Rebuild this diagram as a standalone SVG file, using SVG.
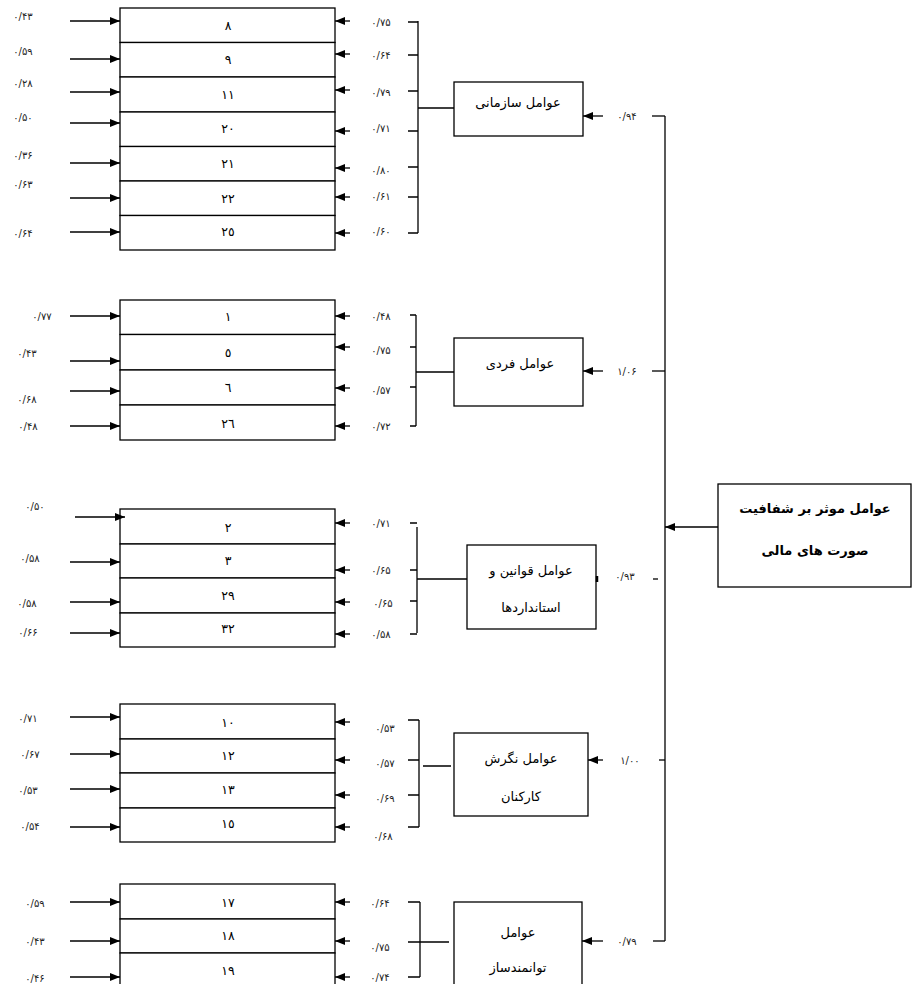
<svg xmlns="http://www.w3.org/2000/svg" width="914" height="984" viewBox="0 0 914 984">
<defs>
<marker id="ah" markerUnits="userSpaceOnUse" markerWidth="10" markerHeight="8" refX="10" refY="4" orient="auto">
<path d="M0,0 L10,4 L0,8 z" fill="#000"/>
</marker>
<style>
rect{fill:#fff;stroke:#000;stroke-width:1.3}
line,path.c{stroke:#000;stroke-width:1.3;fill:none}
line.a{marker-end:url(#ah)}
text{font-family:"DejaVu Sans","Noto Sans",sans-serif;fill:#000;text-anchor:middle;dominant-baseline:central}
text.v{font-size:10px;fill:#222}
text.n{font-size:12.5px}
text.f{font-size:13px}
text.m{font-size:13px;font-weight:bold}
</style>
</defs>
<rect x="0" y="0" width="914" height="984" style="fill:#fff;stroke:none"/>

<!-- Group 1 -->
<g id="items1">
<rect x="120" y="8" width="215" height="34.5"/><text class="n" x="228" y="25">٨</text>
<rect x="120" y="42.5" width="215" height="34.5"/><text class="n" x="228" y="59">٩</text>
<rect x="120" y="77" width="215" height="35"/><text class="n" x="228" y="94">١١</text>
<rect x="120" y="112" width="215" height="34.5"/><text class="n" x="228" y="128">٢٠</text>
<rect x="120" y="146.5" width="215" height="34.5"/><text class="n" x="228" y="163">٢١</text>
<rect x="120" y="181" width="215" height="34.5"/><text class="n" x="228" y="198">٢٢</text>
<rect x="120" y="215.5" width="215" height="34.5"/><text class="n" x="228" y="231">٢٥</text>
</g>
<g id="factor1"><rect x="454" y="82" width="129" height="54"/><text class="f" x="518" y="102">عوامل سازمانی</text></g>

<!-- Group 2 -->
<g id="items2">
<rect x="120" y="300" width="215" height="34.5"/><text class="n" x="228" y="316">١</text>
<rect x="120" y="334.5" width="215" height="35.5"/><text class="n" x="228" y="352">٥</text>
<rect x="120" y="370" width="215" height="35"/><text class="n" x="228" y="387">٦</text>
<rect x="120" y="405" width="215" height="35"/><text class="n" x="228" y="423">٢٦</text>
</g>
<g id="factor2"><rect x="454" y="338" width="129" height="68"/><text class="f" x="520" y="363">عوامل فردی</text></g>

<!-- Group 3 -->
<g id="items3">
<rect x="120" y="509" width="215" height="35"/><text class="n" x="228" y="527">٢</text>
<rect x="120" y="544" width="215" height="34"/><text class="n" x="228" y="560">٣</text>
<rect x="120" y="578" width="215" height="35"/><text class="n" x="228" y="595">٢٩</text>
<rect x="120" y="613" width="215" height="34"/><text class="n" x="228" y="628">٣٢</text>
</g>
<g id="factor3"><rect x="467" y="545" width="129" height="84"/><text class="f" x="531" y="570">عوامل قوانین و</text><text class="f" x="531" y="607">استانداردها</text></g>

<!-- Group 4 -->
<g id="items4">
<rect x="120" y="704" width="215" height="35"/><text class="n" x="228" y="722">١٠</text>
<rect x="120" y="739" width="215" height="34"/><text class="n" x="228" y="755">١٢</text>
<rect x="120" y="773" width="215" height="35"/><text class="n" x="228" y="789">١٣</text>
<rect x="120" y="808" width="215" height="34"/><text class="n" x="228" y="823">١٥</text>
</g>
<g id="factor4"><rect x="454" y="733" width="134" height="83"/><text class="f" x="521" y="758">عوامل نگرش</text><text class="f" x="521" y="796">کارکنان</text></g>

<!-- Group 5 -->
<g id="items5">
<rect x="120" y="884" width="215" height="35"/><text class="n" x="228" y="902">١٧</text>
<rect x="120" y="919" width="215" height="34"/><text class="n" x="228" y="935">١٨</text>
<rect x="120" y="953" width="215" height="40"/><text class="n" x="228" y="970">١٩</text>
</g>
<g id="factor5"><rect x="454" y="902" width="128" height="90"/><text class="f" x="518" y="932">عوامل</text><text class="f" x="518" y="967">توانمندساز</text></g>

<!-- Main -->
<g id="main"><rect x="718" y="484" width="193" height="103"/><text class="m" x="815" y="508">عوامل موثر بر شفافیت</text><text class="m" x="815" y="550">صورت های مالی</text></g>

<g id="connectors">
<line class="a" x1="70" y1="21" x2="120" y2="21"/>
<line class="a" x1="70" y1="59" x2="120" y2="59"/>
<line class="a" x1="70" y1="92" x2="120" y2="92"/>
<line class="a" x1="70" y1="123" x2="120" y2="123"/>
<line class="a" x1="70" y1="163" x2="120" y2="163"/>
<line class="a" x1="70" y1="198" x2="120" y2="198"/>
<line class="a" x1="70" y1="232" x2="120" y2="232"/>
<line class="a" x1="350" y1="21" x2="335" y2="21"/>
<line class="a" x1="350" y1="54" x2="335" y2="54"/>
<line class="a" x1="350" y1="90" x2="335" y2="90"/>
<line class="a" x1="350" y1="131" x2="335" y2="131"/>
<line class="a" x1="350" y1="168" x2="335" y2="168"/>
<line class="a" x1="350" y1="197" x2="335" y2="197"/>
<line class="a" x1="350" y1="233" x2="335" y2="233"/>
<path class="c" d="M408,22H418M408,55H418M408,91H418M408,131H418M408,167H418M408,197H418M408,233H418M418,21V233M418,108H454"/>
<line class="a" x1="603" y1="116" x2="583" y2="116"/>
<path class="c" d="M652,116H665"/>

<line class="a" x1="70" y1="316" x2="120" y2="316"/>
<line class="a" x1="70" y1="361" x2="120" y2="361"/>
<line class="a" x1="70" y1="391" x2="120" y2="391"/>
<line class="a" x1="70" y1="426" x2="120" y2="426"/>
<line class="a" x1="350" y1="316" x2="335" y2="316"/>
<line class="a" x1="350" y1="347" x2="335" y2="347"/>
<line class="a" x1="350" y1="388" x2="335" y2="388"/>
<line class="a" x1="350" y1="426" x2="335" y2="426"/>
<path class="c" d="M410,315H416M410,347H416M410,387H416M410,426H416M416,315V426M416,372H454"/>
<line class="a" x1="603" y1="371" x2="583" y2="371"/>
<path class="c" d="M652,371H665"/>

<line class="a" x1="75" y1="517" x2="125" y2="517"/>
<line class="a" x1="70" y1="562" x2="120" y2="562"/>
<line class="a" x1="70" y1="602" x2="120" y2="602"/>
<line class="a" x1="70" y1="633" x2="120" y2="633"/>
<line class="a" x1="350" y1="523" x2="335" y2="523"/>
<line class="a" x1="350" y1="570" x2="335" y2="570"/>
<line class="a" x1="350" y1="602" x2="335" y2="602"/>
<line class="a" x1="350" y1="634" x2="335" y2="634"/>
<path class="c" d="M410,523H417M410,570H417M410,601H417M410,634H417M417,527V633M417,579H467"/>
<path class="c" d="M597,576V582" style="stroke-width:2.5"/>
<path class="c" d="M653,579H658"/>

<line class="a" x1="70" y1="717" x2="120" y2="717"/>
<line class="a" x1="70" y1="754" x2="120" y2="754"/>
<line class="a" x1="70" y1="789" x2="120" y2="789"/>
<line class="a" x1="70" y1="827" x2="120" y2="827"/>
<line class="a" x1="350" y1="722" x2="335" y2="722"/>
<line class="a" x1="350" y1="760" x2="335" y2="760"/>
<line class="a" x1="350" y1="795" x2="335" y2="795"/>
<line class="a" x1="350" y1="827" x2="335" y2="827"/>
<path class="c" d="M408,720H419M408,760H419M408,795H419M408,827H419M419,720V827M423,766H451"/>
<line class="a" x1="603" y1="760" x2="588" y2="760"/>
<path class="c" d="M659,760H665"/>

<line class="a" x1="70" y1="902" x2="120" y2="902"/>
<line class="a" x1="70" y1="941" x2="120" y2="941"/>
<line class="a" x1="70" y1="977" x2="120" y2="977"/>
<line class="a" x1="350" y1="902" x2="335" y2="902"/>
<line class="a" x1="350" y1="941" x2="335" y2="941"/>
<line class="a" x1="350" y1="977" x2="335" y2="977"/>
<path class="c" d="M408,902H420M408,977H420M420,902V977M408,942H449"/>
<line class="a" x1="603" y1="941" x2="582" y2="941"/>
<path class="c" d="M653,941H665"/>

<path class="c" d="M665,116V941"/>
<line class="a" x1="718" y1="527" x2="665" y2="527"/>
</g>

<g id="labels">
<text class="v" x="23" y="16">۰/۴۳</text>
<text class="v" x="23" y="51">۰/۵۹</text>
<text class="v" x="23" y="83">۰/۲۸</text>
<text class="v" x="23" y="117">۰/۵۰</text>
<text class="v" x="23" y="155">۰/۳۶</text>
<text class="v" x="23" y="184">۰/۶۳</text>
<text class="v" x="23" y="233">۰/۶۴</text>
<text class="v" x="381" y="22">۰/۷۵</text>
<text class="v" x="381" y="55">۰/۶۴</text>
<text class="v" x="381" y="92">۰/۷۹</text>
<text class="v" x="381" y="128">۰/۷۱</text>
<text class="v" x="381" y="170">۰/۸۰</text>
<text class="v" x="381" y="196">۰/۶۱</text>
<text class="v" x="381" y="231">۰/۶۰</text>
<text class="v" x="627" y="116">۰/۹۴</text>

<text class="v" x="42" y="316">۰/۷۷</text>
<text class="v" x="27" y="353">۰/۴۳</text>
<text class="v" x="27" y="399">۰/۶۸</text>
<text class="v" x="28" y="426">۰/۴۸</text>
<text class="v" x="381" y="316">۰/۴۸</text>
<text class="v" x="381" y="350">۰/۷۵</text>
<text class="v" x="381" y="390">۰/۵۷</text>
<text class="v" x="381" y="426">۰/۷۲</text>
<text class="v" x="627" y="371">۱/۰۶</text>

<text class="v" x="35" y="506">۰/۵۰</text>
<text class="v" x="30" y="558">۰/۵۸</text>
<text class="v" x="27" y="603">۰/۵۸</text>
<text class="v" x="28" y="632">۰/۶۶</text>
<text class="v" x="381" y="523">۰/۷۱</text>
<text class="v" x="381" y="570">۰/۶۵</text>
<text class="v" x="383" y="603">۰/۶۵</text>
<text class="v" x="381" y="634">۰/۵۸</text>
<text class="v" x="625" y="576">۰/۹۳</text>

<text class="v" x="28" y="718">۰/۷۱</text>
<text class="v" x="30" y="754">۰/۶۷</text>
<text class="v" x="28" y="790">۰/۵۳</text>
<text class="v" x="30" y="826">۰/۵۴</text>
<text class="v" x="385" y="728">۰/۵۳</text>
<text class="v" x="385" y="763">۰/۵۷</text>
<text class="v" x="385" y="798">۰/۶۹</text>
<text class="v" x="383" y="836">۰/۶۸</text>
<text class="v" x="630" y="760">۱/۰۰</text>

<text class="v" x="35" y="903">۰/۵۹</text>
<text class="v" x="35" y="941">۰/۴۳</text>
<text class="v" x="35" y="978">۰/۴۶</text>
<text class="v" x="380" y="903">۰/۶۴</text>
<text class="v" x="380" y="947">۰/۷۵</text>
<text class="v" x="380" y="977">۰/۷۴</text>
<text class="v" x="627" y="941">۰/۷۹</text>
</g>
</svg>
